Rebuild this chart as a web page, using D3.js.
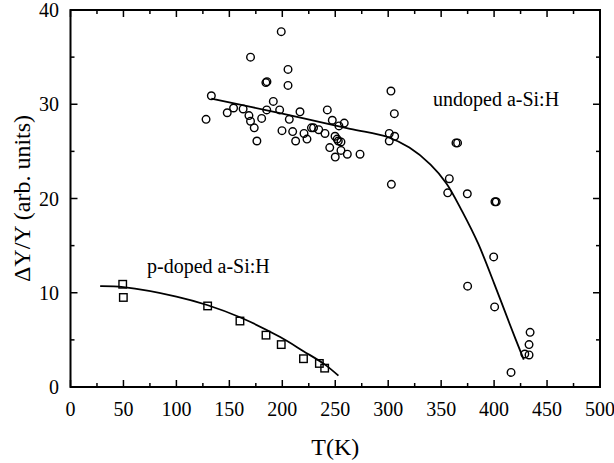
<!DOCTYPE html>
<html><head><meta charset="utf-8">
<script src="https://cdn.jsdelivr.net/npm/d3@7"></script>
<style>
body{margin:0;background:#fff;}
svg{display:block;}
</style></head>
<body>
<svg id="chart" width="614" height="463" font-family="Liberation Serif"></svg>
<script>
// Data (T in K, ΔY/Y in arb. units)
const undopedT = [128,133,148,154,163,168.5,170,170,173.5,176,180.5,184.5,185.5,185.3,191.5,197.5,199,199.7,205.4,205.4,206.6,209.8,212.6,216.7,220.5,223.3,227.5,229.5,234.4,240.3,242.5,244.8,247.2,249.8,250,251.8,252.9,253.5,255.4,255.4,258.5,261.4,273.4,301,301,302.6,303,305.8,306.1,356.2,357.7,364,365.5,374.7,375,399.6,400.5,400.8,402,416,429,433,433,434];
const undopedY = [28.4,30.9,29.1,29.6,29.5,28.8,28.2,35.0,27.5,26.1,28.5,32.3,32.4,29.4,30.3,29.4,37.7,27.2,33.7,32.0,28.4,27.1,26.1,29.2,26.9,26.3,27.5,27.5,27.3,26.9,29.4,25.4,28.3,26.6,24.4,26.3,26.1,27.7,26.0,25.1,28.0,24.7,24.7,26.9,26.1,31.4,21.5,29.0,26.6,20.6,22.1,25.9,25.9,20.5,10.7,13.8,8.5,19.65,19.65,1.55,3.5,3.4,4.5,5.8];
const pdopedT = [49.3,49.9,129.5,160,184.6,199,220,235,240];
const pdopedY = [10.9,9.5,8.6,7.0,5.5,4.5,3.0,2.5,2.0];
// Fit curves
const undopedFitT = [133,200,264,300,320,340,355,370,385,400,415,428];
const undopedFitY = [30.6,29.0,27.4,26.5,25.4,23.6,21.6,18.6,15.2,11.0,6.6,2.9];
const pdopedFitT = [28,50,100,129,160,198,220,240,253];
const pdopedFitY = [10.7,10.6,9.6,8.7,7.4,5.3,3.8,2.4,1.2];
const xTicks = [0,50,100,150,200,250,300,350,400,450,500];
const yTicks = [0,10,20,30,40];
const labels = {x:"T(K)", y:"ΔY/Y (arb. units)", undoped:"undoped a-Si:H", pdoped:"p-doped a-Si:H"};

const FONT = "Liberation Serif";
const svg = d3.select("#chart");
const L=70.5, R=600, T=10, B=387;
const x = d3.scaleLinear().domain([0,500]).range([L,R]);
const y = d3.scaleLinear().domain([0,40]).range([B,T]);

// ticks (inward, all four sides)
const xMinor = d3.range(25,500,50), yMinor = d3.range(5,40,10);
const g = svg.append("g").attr("stroke","#000").attr("stroke-width",1.5);
xTicks.forEach(v=>{
  g.append("line").attr("x1",x(v)).attr("x2",x(v)).attr("y1",B).attr("y2",B-7);
  g.append("line").attr("x1",x(v)).attr("x2",x(v)).attr("y1",T).attr("y2",T+7);
});
xMinor.forEach(v=>{
  g.append("line").attr("x1",x(v)).attr("x2",x(v)).attr("y1",B).attr("y2",B-4);
  g.append("line").attr("x1",x(v)).attr("x2",x(v)).attr("y1",T).attr("y2",T+4);
});
yTicks.forEach(v=>{
  g.append("line").attr("x1",L).attr("x2",L+7).attr("y1",y(v)).attr("y2",y(v));
  g.append("line").attr("x1",R).attr("x2",R-7).attr("y1",y(v)).attr("y2",y(v));
});
yMinor.forEach(v=>{
  g.append("line").attr("x1",L).attr("x2",L+4).attr("y1",y(v)).attr("y2",y(v));
  g.append("line").attr("x1",R).attr("x2",R-4).attr("y1",y(v)).attr("y2",y(v));
});
svg.append("rect").attr("x",L).attr("y",T).attr("width",R-L).attr("height",B-T)
  .attr("fill","none").attr("stroke","#000").attr("stroke-width",2);

function txt(sel){ return sel.attr("font-family",FONT).attr("fill","#000"); }

// tick labels
txt(svg.append("g").selectAll("text").data(xTicks).join("text"))
  .attr("x",d=>x(d)).attr("y",416).attr("text-anchor","middle")
  .attr("font-size",20).text(d=>d);
txt(svg.append("g").selectAll("text").data(yTicks).join("text"))
  .attr("x",59).attr("y",d=>y(d)+7).attr("text-anchor","end")
  .attr("font-size",20).text(d=>d);

// axis titles
txt(svg.append("text")).attr("x",x(250)).attr("y",455).attr("text-anchor","middle")
  .attr("font-size",24).text(labels.x);
txt(svg.append("text")).attr("transform",`translate(30,${(T+B)/2}) rotate(-90)`)
  .attr("text-anchor","middle").attr("font-size",24).text(labels.y);

// fit lines
const line = d3.line().x(d=>x(d[0])).y(d=>y(d[1])).curve(d3.curveCatmullRom);
svg.append("path").datum(d3.zip(undopedFitT,undopedFitY)).attr("d",line)
  .attr("fill","none").attr("stroke","#000").attr("stroke-width",1.8);
svg.append("path").datum(d3.zip(pdopedFitT,pdopedFitY)).attr("d",line)
  .attr("fill","none").attr("stroke","#000").attr("stroke-width",1.8);

// points
svg.append("g").selectAll("circle").data(d3.zip(undopedT,undopedY)).join("circle")
  .attr("cx",d=>x(d[0])).attr("cy",d=>y(d[1])).attr("r",3.8)
  .attr("fill","none").attr("stroke","#000").attr("stroke-width",1.4);
const s=7.5;
svg.append("g").selectAll("rect").data(d3.zip(pdopedT,pdopedY)).join("rect")
  .attr("x",d=>x(d[0])-s/2).attr("y",d=>y(d[1])-s/2).attr("width",s).attr("height",s)
  .attr("fill","none").attr("stroke","#000").attr("stroke-width",1.4);

// series labels
txt(svg.append("text")).attr("x",433).attr("y",106).attr("font-size",20).text(labels.undoped);
txt(svg.append("text")).attr("x",147).attr("y",273).attr("font-size",20).text(labels.pdoped);
</script>
</body></html>
